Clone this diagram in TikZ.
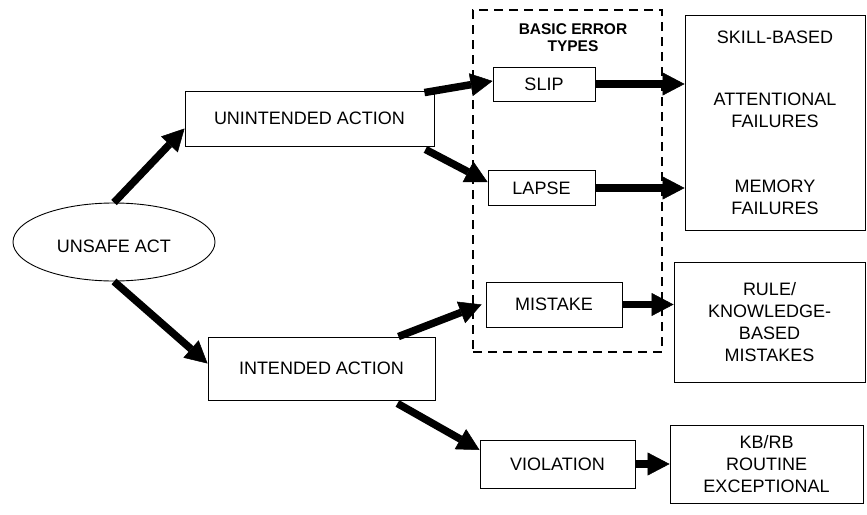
\documentclass[tikz,border=0pt]{standalone}
\usepackage{fontspec}
\setmainfont{Liberation Sans}
\usetikzlibrary{arrows.meta,shapes.geometric,calc}

\begin{document}
\begin{tikzpicture}[x=1pt,y=-1pt,
  box/.style={draw,line width=0.9pt,inner sep=0pt,align=center,
    font=\fontsize{18}{22}\selectfont},
  flow/.style={line width=7.5pt,
    -{Triangle[length=22pt,width=23pt,line width=0.5pt]}},
  groupframe/.style={draw,line width=1.3pt,dash pattern=on 9pt off 6pt,
    inner sep=0pt},
]
\useasboundingbox (0,0) rectangle (867,514);

% dashed frame around the basic error types
\node[groupframe,minimum width=189pt,minimum height=342pt] (frame) at (567.5,181) {};
\node[font=\bfseries\fontsize{15.5}{17}\selectfont,align=center] (frametitle)
  at (573,38) {BASIC ERROR\\TYPES};

% root
\node[draw,ellipse,line width=0.9pt,minimum width=202pt,minimum height=78pt,
  inner sep=0pt,font=\fontsize{18}{22}\selectfont] (unsafe) at (114,242) {};
\node[font=\fontsize{18}{22}\selectfont] (unsafelabel) at (114,246) {UNSAFE ACT};

% intention
\node[box,minimum width=249pt,minimum height=55pt] (unint) at (309.5,118.5) {UNINTENDED ACTION};
\node[box,minimum width=227pt,minimum height=63pt] (intended) at (321.5,368.5) {INTENDED ACTION};

% error types
\node[box,minimum width=102pt,minimum height=34pt] (slip) at (544,84) {SLIP};
\node[box,minimum width=107pt,minimum height=35pt] (lapse) at (541.5,188) {LAPSE};
\node[box,minimum width=136pt,minimum height=45pt] (mistake) at (554,304.5) {MISTAKE};
\node[box,minimum width=155pt,minimum height=48pt] (violation) at (557.5,464) {VIOLATION};

% outcomes
\node[box,minimum width=180pt,minimum height=215pt] (skill) at (775,122.5)
  {SKILL-BASED\\[40pt]ATTENTIONAL\\FAILURES\\[43pt]MEMORY\\FAILURES};
\node[box,minimum width=191pt,minimum height=120pt] (rule) at (769.5,322)
  {RULE/\\KNOWLEDGE-\\BASED\\MISTAKES};
\node[box,minimum width=193pt,minimum height=78pt] (kb) at (766.5,464)
  {KB/RB\\ROUTINE\\EXCEPTIONAL};

% connectors
\draw[flow] (unsafe.north) -- ($(unint.west)+(0,10)$);
\draw[flow] (unsafe.south) -- ($(intended.west)+(0,-5)$);
\draw[flow] ($(unint.north east)+(-10,2)$) -- ($(slip.west)+(0,-3)$);
\draw[flow] ($(unint.south east)+(-9,3)$) -- ($(lapse.west)+(0,-6)$);
\draw[flow] ($(intended.north east)+(-37,0)$) -- ($(mistake.west)+(-4,0)$);
\draw[flow] ($(intended.south east)+(-38,3)$) -- ($(violation.west)+(0,-14)$);
\draw[flow] (slip.east) -- (slip.east -| skill.west);
\draw[flow] (lapse.east) -- (lapse.east -| skill.west);
\draw[flow] (mistake.east) -- (mistake.east -| rule.west);
\draw[flow] (violation.east) -- (violation.east -| kb.west);
\end{tikzpicture}
\end{document}
